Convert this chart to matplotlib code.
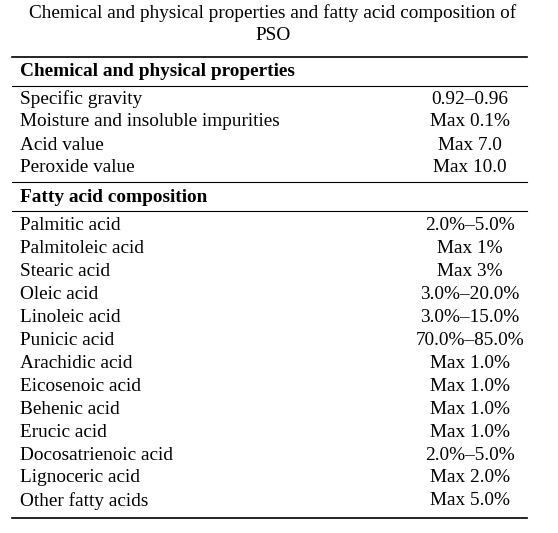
import matplotlib
matplotlib.use("Agg")
import matplotlib.pyplot as plt

TITLE = ["Chemical and physical properties and fatty acid composition of", "PSO"]
SECTION_1 = "Chemical and physical properties"
PROPS = ["Specific gravity", "Moisture and insoluble impurities", "Acid value", "Peroxide value"]
PROP_VALUES = ["0.92\u20130.96", "Max 0.1%", "Max 7.0", "Max 10.0"]
SECTION_2 = "Fatty acid composition"
ACIDS = ["Palmitic acid", "Palmitoleic acid", "Stearic acid", "Oleic acid", "Linoleic acid",
         "Punicic acid", "Arachidic acid", "Eicosenoic acid", "Behenic acid", "Erucic acid",
         "Docosatrienoic acid", "Lignoceric acid", "Other fatty acids"]
ACID_VALUES = ["2.0%\u20135.0%", "Max 1%", "Max 3%", "3.0%\u201320.0%", "3.0%\u201315.0%",
               "70.0%\u201385.0%", "Max 1.0%", "Max 1.0%", "Max 1.0%", "Max 1.0%",
               "2.0%\u20135.0%", "Max 2.0%", "Max 5.0%"]

W, H = 558, 533
plt.rcParams["font.family"] = ["Liberation Serif", "DejaVu Serif"]
FS = 13.9

fig = plt.figure(figsize=(W / 100, H / 100), dpi=100)
ax = fig.add_axes([0, 0, 1, 1])
ax.set_xlim(0, W)
ax.set_ylim(H, 0)
ax.axis("off")

X_L, X_R, X_V = 20, 527, 470
LINE_L = 12


def rule(y, lw=1.0):
    ax.plot([LINE_L, X_R], [y, y], color="black", lw=lw)


ax.text(273, 13, TITLE[0], ha="center", va="center", fontsize=FS)
ax.text(273, 35, TITLE[1], ha="center", va="center", fontsize=FS)

rule(57, 1.2)
ax.text(X_L, 72, SECTION_1, va="center", fontsize=FS, fontweight="bold")
rule(86, 0.8)
for i, (name, val) in enumerate(zip(PROPS, PROP_VALUES)):
    y = 99 + i * 23
    ax.text(X_L, y, name, va="center", fontsize=FS)
    ax.text(X_V, y, val, va="center", ha="center", fontsize=FS)

rule(182, 0.8)
ax.text(X_L, 197, SECTION_2, va="center", fontsize=FS, fontweight="bold")
rule(211, 0.8)
for i, (name, val) in enumerate(zip(ACIDS, ACID_VALUES)):
    y = 226 + i * 22.9
    ax.text(X_L, y, name, va="center", fontsize=FS)
    ax.text(X_V, y, val, va="center", ha="center", fontsize=FS)
rule(518, 1.2)

fig.savefig("out.png", dpi=100, facecolor="white")
